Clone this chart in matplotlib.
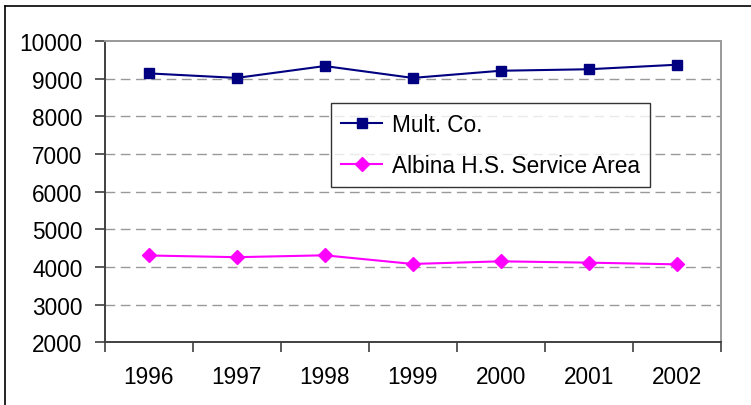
import matplotlib
matplotlib.use("Agg")
import matplotlib.pyplot as plt
from matplotlib.lines import Line2D

years = ["1996", "1997", "1998", "1999", "2000", "2001", "2002"]
mult_co = [9140, 9020, 9335, 9020, 9210, 9250, 9370]
albina = [4305, 4260, 4310, 4080, 4150, 4115, 4070]
y_ticks = [2000, 3000, 4000, 5000, 6000, 7000, 8000, 9000, 10000]

plt.rcParams['font.family'] = ['Liberation Sans', 'DejaVu Sans']
FS = 16.3

W, H = 751, 406
fig = plt.figure(figsize=(W / 100, H / 100), dpi=100)
fig.patch.set_facecolor("white")

# outer chart border (only left and top visible)
fig.add_artist(Line2D([5 / W, 5 / W], [-0.05, 1 - 7 / H], transform=fig.transFigure,
                      color="black", lw=1.2))
fig.add_artist(Line2D([5 / W, 1.05], [1 - 7 / H, 1 - 7 / H], transform=fig.transFigure,
                      color="black", lw=1.2))

left, right, top, bottom = 104.7, 720.7, 42, 343.3
ax = fig.add_axes([left / W, (H - bottom) / H, (right - left) / W, (bottom - top) / H])

x = list(range(len(years)))
ax.plot(x, mult_co, color="#000080", lw=1.5, marker="s", markersize=7.5,
        label="Mult. Co.")
ax.plot(x, albina, color="#FF00FF", lw=1.5, marker="D", markersize=7,
        label="Albina H.S. Service Area")

ax.set_xlim(-0.5, len(years) - 0.5)
ax.set_ylim(y_ticks[0], y_ticks[-1])
ax.set_yticks(y_ticks)
ax.set_yticklabels([str(v) for v in y_ticks], fontsize=FS)
ax.set_xticks(x)
ax.set_xticklabels(years, fontsize=FS)
ax.set_xticks([i - 0.5 for i in range(len(years) + 1)], minor=True)
ax.tick_params(axis="x", which="major", length=0, pad=16)
ax.tick_params(axis="x", which="minor", length=7, width=1.2, color="#404040")
ax.tick_params(axis="y", which="major", length=7, width=1.2, color="#404040", pad=9)

for v in y_ticks[1:-1]:
    ax.axhline(v, color="#999999", lw=1, dashes=(7, 4), zorder=0)

for s in ["left", "bottom"]:
    ax.spines[s].set_color("#404040")
    ax.spines[s].set_linewidth(1.4)
for s in ["top", "right"]:
    ax.spines[s].set_color("#999999")
    ax.spines[s].set_linewidth(1.4)

leg = ax.legend(loc="upper left", bbox_to_anchor=(331 / W, 1 - 104 / H),
                bbox_transform=fig.transFigure, fontsize=FS, frameon=True,
                fancybox=False, edgecolor="black", handlelength=1.8,
                handletextpad=0.45, borderpad=0.45, labelspacing=0.8,
                borderaxespad=0)
leg.get_frame().set_linewidth(1.0)

fig.savefig("out.png", dpi=100)
